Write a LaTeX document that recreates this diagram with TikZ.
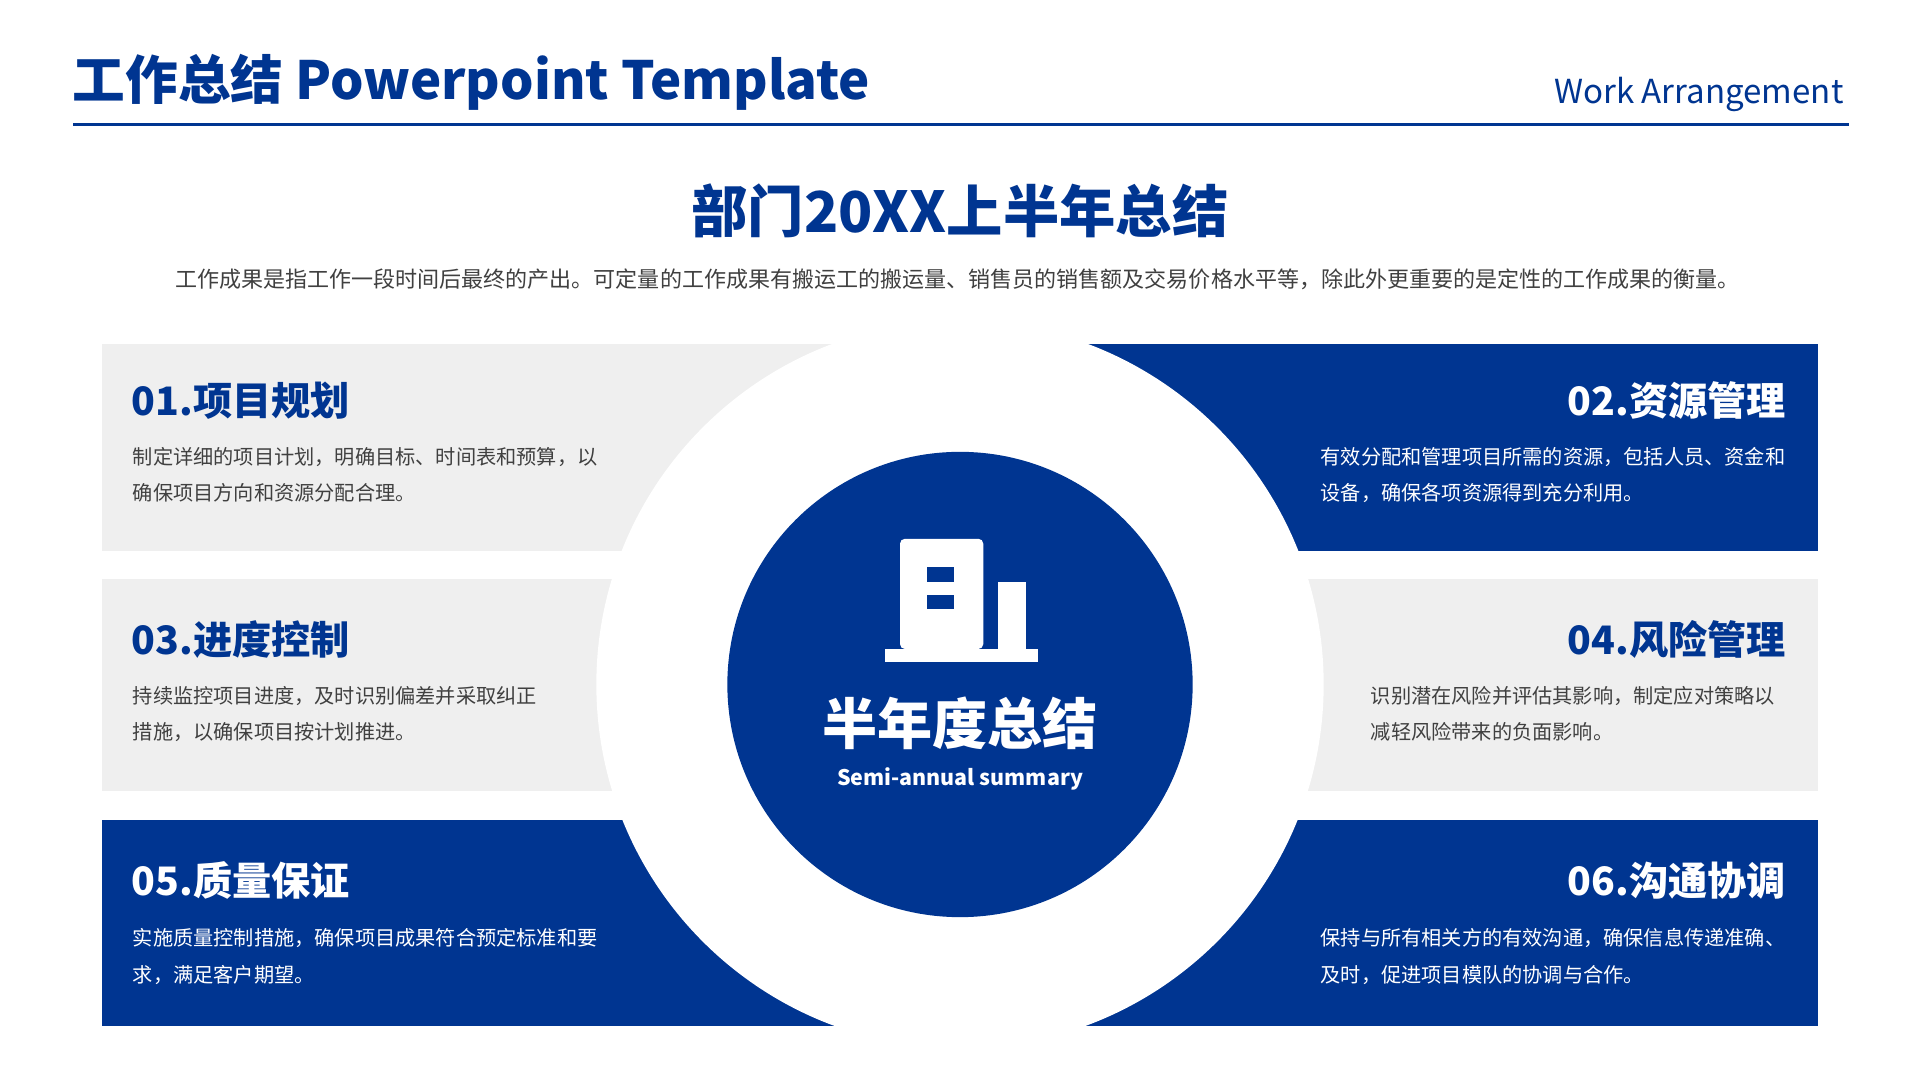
\documentclass[tikz,border=0pt]{standalone}
\usepackage{fontspec}
\setmainfont{Noto Sans CJK SC}
\definecolor{mainblue}{HTML}{003591}
\definecolor{boxgray}{HTML}{EFEFEF}
\definecolor{txtgray}{HTML}{404040}
\begin{document}
\begin{tikzpicture}[x=1pt,y=-1pt,
  head/.style={font=\fontsize{32}{36}\selectfont\bfseries},
  body/.style={font=\fontsize{16.5}{29.5}\selectfont, align=left},
  lhead/.style={head, anchor=west, text=mainblue},
  rhead/.style={head, anchor=east},
  lbody/.style={body, anchor=north west},
  rbody/.style={body, anchor=north west}]
  \useasboundingbox (0,0) rectangle (1568,882);
  \fill[white] (0,0) rectangle (1568,882);

  % header
  \node[anchor=west, text=mainblue, font=\fontsize{43}{48}\selectfont\bfseries] (title) at (56,67) {工作总结 Powerpoint Template};
  \node[anchor=east, text=mainblue, font=\fontsize{27}{30}\selectfont] (arr) at (1509,77) {Work Arrangement};
  \draw[mainblue, line width=2.5pt] (60,102) -- (1510,102);
  \node[text=mainblue, font=\fontsize{46}{50}\selectfont\bfseries] (head) at (784,172) {部门20XX上半年总结};
  \node[text=txtgray, font=\fontsize{18}{20}\selectfont] (sub) at (782,228) {工作成果是指工作一段时间后最终的产出。可定量的工作成果有搬运工的搬运量、销售员的销售额及交易价格水平等，除此外更重要的是定性的工作成果的衡量。};

  % boxes
  \fill[boxgray]  (83,281) rectangle (784,450);
  \fill[mainblue] (784,281) rectangle (1485,450);
  \fill[boxgray]  (83,473) rectangle (784,646);
  \fill[boxgray]  (784,473) rectangle (1485,646);
  \fill[mainblue] (83,670) rectangle (784,838);
  \fill[mainblue] (784,670) rectangle (1485,838);

  % circles
  \fill[white] (784,559) circle (297);
  \fill[mainblue] (784,559) circle (190);

  % icon
  \fill[white, rounded corners=4pt] (735,530) -- (735,440) -- (803,440) -- (803,530) -- cycle;
  \fill[white] (815,475) rectangle (838,530);
  \fill[white] (723,530) rectangle (848,541);
  \fill[mainblue] (757,463) rectangle (779,475);
  \fill[mainblue] (757,486) rectangle (779,497);
  \node[text=white, font=\fontsize{45}{48}\selectfont\bfseries] (ctr) at (784,591) {半年度总结};
  \node[text=white, font=\fontsize{17.5}{20}\selectfont\bfseries] (ctren) at (784,636) {Semi-annual summary};

  % left column
  \node[lhead] (h1) at (104,327) {01.项目规划};
  \node[lbody, text=txtgray] (b1) at (105,362) {制定详细的项目计划，明确目标、时间表和预算，以\\确保项目方向和资源分配合理。};
  \node[lhead] (h3) at (104,522) {03.进度控制};
  \node[lbody, text=txtgray] (b3) at (105,557) {持续监控项目进度，及时识别偏差并采取纠正\\措施，以确保项目按计划推进。};
  \node[lhead, text=white] (h5) at (104,719) {05.质量保证};
  \node[lbody, text=white] (b5) at (105,755) {实施质量控制措施，确保项目成果符合预定标准和要\\求，满足客户期望。};

  % right column
  \node[rhead, text=white] (h2) at (1462,327) {02.资源管理};
  \node[rbody, text=white] (b2) at (1075,362) {有效分配和管理项目所需的资源，包括人员、资金和\\设备，确保各项资源得到充分利用。};
  \node[rhead, text=mainblue] (h4) at (1462,522) {04.风险管理};
  \node[rbody, text=txtgray] (b4) at (1116,557) {识别潜在风险并评估其影响，制定应对策略以\\减轻风险带来的负面影响。};
  \node[rhead, text=white] (h6) at (1462,719) {06.沟通协调};
  \node[rbody, text=white] (b6) at (1075,755) {保持与所有相关方的有效沟通，确保信息传递准确、\\及时，促进项目模队的协调与合作。};
\end{tikzpicture}
\end{document}
